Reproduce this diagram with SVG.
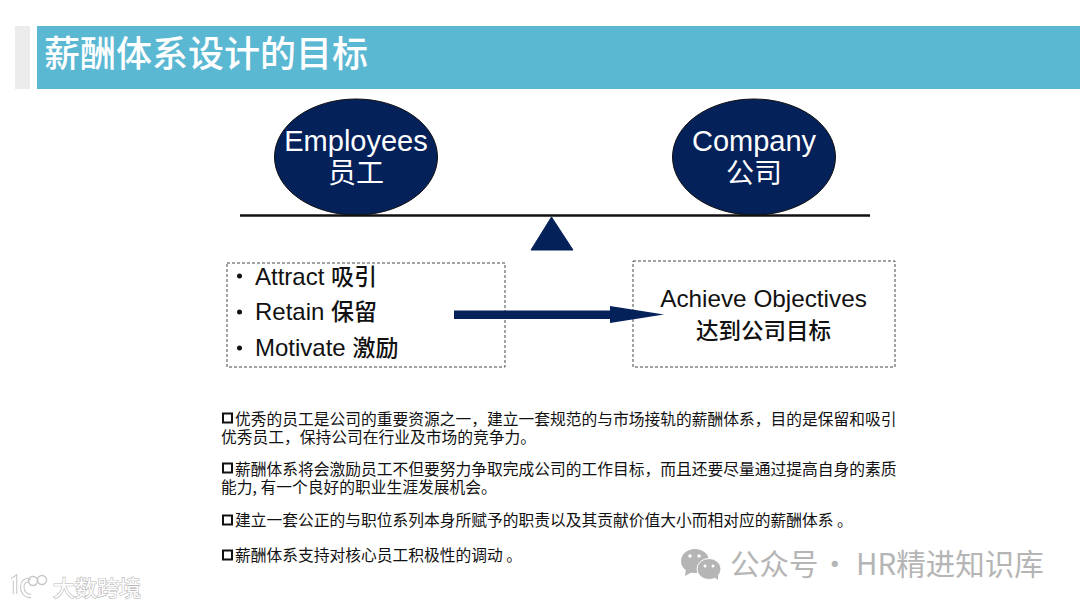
<svg xmlns="http://www.w3.org/2000/svg" width="1080" height="608" viewBox="0 0 1080 608">
<style>
text{font-family:"Liberation Sans","Noto Sans CJK SC",sans-serif;fill:#111}
.cn{font-family:"Noto Sans CJK SC","Liberation Sans",sans-serif}
.node{fill:#04215a;stroke:#111;stroke-width:1}
.box{fill:none;stroke:#333;stroke-width:.9;stroke-dasharray:3 2}
.big{font-size:29px;fill:#fff;text-anchor:middle}
.bigcn{font-size:28px;fill:#fff;text-anchor:middle}
.li{font-size:24px}
.licn{font-size:23px}
.ob{font-size:24.300px;text-anchor:middle}
.p{font-size:15.750px}
.sq{fill:none;stroke:#111;stroke-width:2}
.mark{fill:#fff;stroke:#b8b8b8;stroke-width:1.200;paint-order:stroke}
</style>
<rect width="1080" height="608" fill="#fff"/>
<g id="header">
<rect x="15" y="26" width="15" height="63" fill="#ebebeb"/>
<rect x="37" y="26" width="1043" height="63" fill="#5bb8d3"/>
<text x="44" y="67" class="cn" font-size="36" font-weight="500" style="fill:#fff">薪酬体系设计的目标</text>
</g>
<g id="employees">
<ellipse class="node" cx="356" cy="157" rx="81.500" ry="58"/>
<text class="big" x="356" y="151">Employees</text>
<text class="bigcn cn" x="356" y="183">员工</text>
</g>
<g id="company">
<ellipse class="node" cx="754" cy="157" rx="81.500" ry="58"/>
<text class="big" x="754" y="151">Company</text>
<text class="bigcn cn" x="754" y="183">公司</text>
</g>
<g id="balance">
<line x1="240" y1="215.500" x2="870" y2="215.500" stroke="#111" stroke-width="2.500"/>
<polygon points="551.500,217 573,250 531,250" fill="#04215a" stroke="#04215a"/>
</g>
<g id="benefits">
<rect class="box" x="227" y="263" width="278" height="104"/>
<circle cx="239.500" cy="276" r="2.500" fill="#111"/>
<circle cx="239.500" cy="312" r="2.500" fill="#111"/>
<circle cx="239.500" cy="348" r="2.500" fill="#111"/>
<text class="li" x="255" y="285">Attract <tspan class="cn licn" font-weight="500">吸引</tspan></text>
<text class="li" x="255" y="320">Retain <tspan class="cn licn" font-weight="500">保留</tspan></text>
<text class="li" x="255" y="356">Motivate <tspan class="cn licn" font-weight="500">激励</tspan></text>
</g>
<g id="objectives">
<rect class="box" x="633" y="261" width="262" height="106"/>
<text class="ob" x="763.500" y="307">Achieve Objectives</text>
<text class="cn" x="763.500" y="339" font-size="22.500" font-weight="500" text-anchor="middle">达到公司目标</text>
</g>
<g id="connectors">
<polygon points="454,310.500 610,310.500 610,306 664,314.500 610,323 610,319 454,319" fill="#04215a"/>
</g>
<g id="notes">
<rect class="sq" x="223" y="413.500" width="9" height="9"/>
<rect class="sq" x="223" y="463.500" width="9" height="9"/>
<rect class="sq" x="223" y="515.500" width="9" height="9"/>
<rect class="sq" x="223" y="550.500" width="9" height="9"/>
<text class="p cn" x="235" y="424.500">优秀的员工是公司的重要资源之一，建立一套规范的与市场接轨的薪酬体系，目的是保留和吸引</text>
<text class="p cn" x="221" y="442.500">优秀员工，保持公司在行业及市场的竞争力。</text>
<text class="p cn" x="235" y="474.500">薪酬体系将会激励员工不但要努力争取完成公司的工作目标，而且还要尽量通过提高自身的素质</text>
<text class="p cn" x="221" y="492.500">能力, 有一个良好的职业生涯发展机会。</text>
<text class="p cn" x="235" y="525.500">建立一套公正的与职位系列本身所赋予的职责以及其贡献价值大小而相对应的薪酬体系 。</text>
<text class="p cn" x="235" y="560.500">薪酬体系支持对核心员工积极性的调动 。</text>
</g>
<g id="watermark-left">
<path d="M12 580 L15 578 L15 594 M30 581 C21 576 18 596 31 596" fill="none" stroke="#c4c4c4" stroke-width="4.500"/>
<path d="M12 580 L15 578 L15 594 M30 581 C21 576 18 596 31 596" fill="none" stroke="#fff" stroke-width="2.500"/>
<circle cx="33" cy="581" r="4.500" fill="none" stroke="#c8c8c8" stroke-width="1.500"/>
<circle cx="42" cy="580" r="4.500" fill="none" stroke="#c8c8c8" stroke-width="1.500"/>
<text x="53" y="596" class="cn mark" font-size="22">大数跨境</text>
</g>
<g id="watermark-right">
<ellipse cx="695" cy="561" rx="14" ry="12" fill="#b5b5b5"/>
<polygon points="686,569 685,576 694,571" fill="#b5b5b5"/>
<ellipse cx="709" cy="569" rx="12" ry="10.500" fill="#b5b5b5" stroke="#fff" stroke-width="1"/>
<polygon points="714,577 718,580 718,574" fill="#b5b5b5"/>
<circle cx="690" cy="556" r="1.700" fill="#fff"/><circle cx="699" cy="556" r="1.700" fill="#fff"/>
<circle cx="705" cy="566" r="1.500" fill="#fff"/><circle cx="713" cy="566" r="1.500" fill="#fff"/>
<text x="730" y="575" class="cn" font-size="29.500" style="fill:#b5b5b5">公众号<tspan x="820">·</tspan><tspan x="856">HR精进知识库</tspan></text>
</g>
</svg>
